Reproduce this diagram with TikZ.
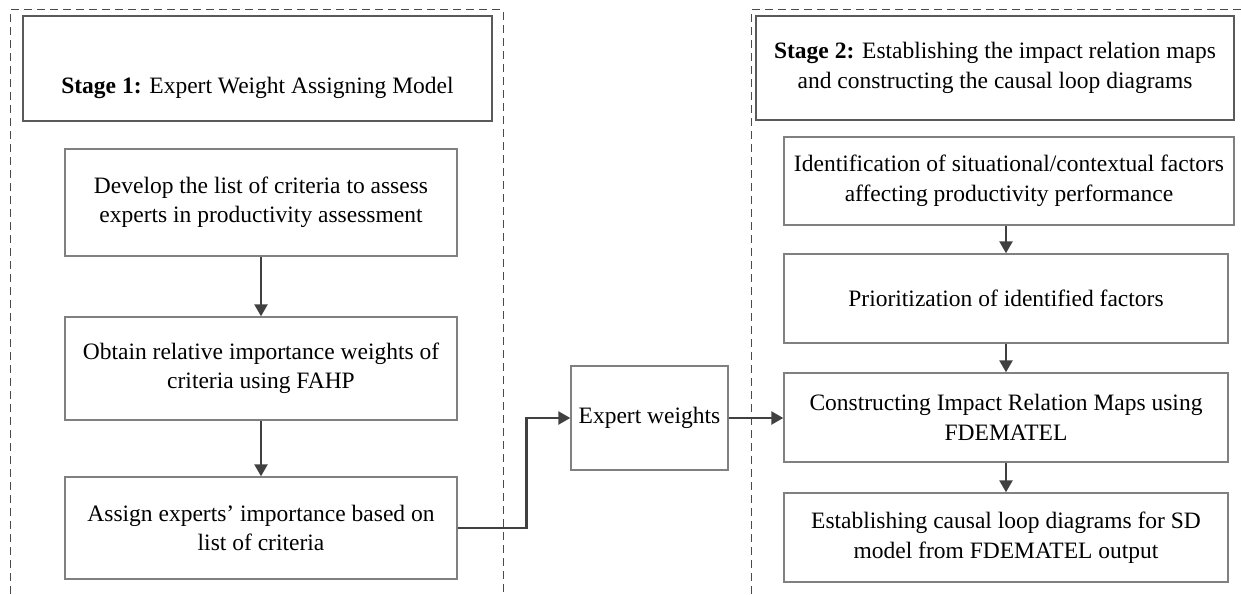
\documentclass[tikz,border=0pt]{standalone}
\usepackage{fontspec}
\setmainfont{Liberation Serif}
\usetikzlibrary{arrows.meta}

\definecolor{boxline}{HTML}{808080}
\definecolor{stageline}{HTML}{5A5A5A}
\definecolor{arrowline}{HTML}{404040}
\definecolor{frameline}{HTML}{4A4A4A}

\begin{document}
\begin{tikzpicture}[x=1pt,y=-1pt,
  font=\fontsize{23.5}{29.5}\selectfont,
  box/.style={draw=boxline, line width=1.4pt, rectangle, inner sep=0pt,
              align=center, fill=white},
  stagebox/.style={box, draw=stageline},
  flow/.style={draw=arrowline, line width=2.5pt,
               -{Triangle[length=12pt,width=13pt]}},
  frame/.style={draw=frameline, line width=1pt, dash pattern=on 8pt off 5pt}
]
\useasboundingbox (0,0) rectangle (1241,594);

% dashed stage frames (open at the bottom and the right)
\draw[frame] (10,594) -- (10,10) -- (503,10) -- (503,594);
\draw[frame] (751,594) -- (751,10) -- (1241,10);

% stage 1 column
\node[stagebox, minimum width=469, minimum height=105,
      text height=56pt, text depth=6pt] (s1) at (257.5,68.5)
  {\textbf{Stage 1:} Expert Weight Assigning Model};
\node[box, minimum width=392, minimum height=107] (dev) at (261,202.5)
  {Develop the list of criteria to assess\\experts in productivity assessment};
\node[box, minimum width=392, minimum height=103] (obt) at (261,368.5)
  {Obtain relative importance weights of\\criteria using FAHP};
\node[box, minimum width=392, minimum height=102] (asg) at (261,528)
  {Assign experts’ importance based on\\list of criteria};

% link between the stages
\node[box, minimum width=157, minimum height=104] (exp) at (649.5,418)
  {Expert weights};

% stage 2 column
\node[stagebox, minimum width=478, minimum height=104] (s2) at (995,68)
  {\textbf{Stage 2:} Establishing the impact relation maps\\and constructing the causal loop diagrams};
\node[box, minimum width=450, minimum height=88] (idf) at (1009,181)
  {Identification of situational/contextual factors\\affecting productivity performance};
\node[box, minimum width=444, minimum height=89] (pri) at (1006,298.5)
  {Prioritization of identified factors};
\node[box, minimum width=444, minimum height=89] (con) at (1006,417.5)
  {Constructing Impact Relation Maps using\\FDEMATEL};
\node[box, minimum width=444, minimum height=89] (est) at (1006,537.5)
  {Establishing causal loop diagrams for SD\\model from FDEMATEL output};

% connectors
\draw[flow] (dev.south) -- (obt.north);
\draw[flow] (obt.south) -- (asg.north);
\draw[flow] (asg.east) -- ++(69,0) |- (exp.west);
\draw[flow] (exp.east) -- (exp.east -| con.west);
\draw[flow] (idf.south -| pri.north) -- (pri.north);
\draw[flow] (pri.south) -- (con.north);
\draw[flow] (con.south) -- (est.north);
\end{tikzpicture}
\end{document}
